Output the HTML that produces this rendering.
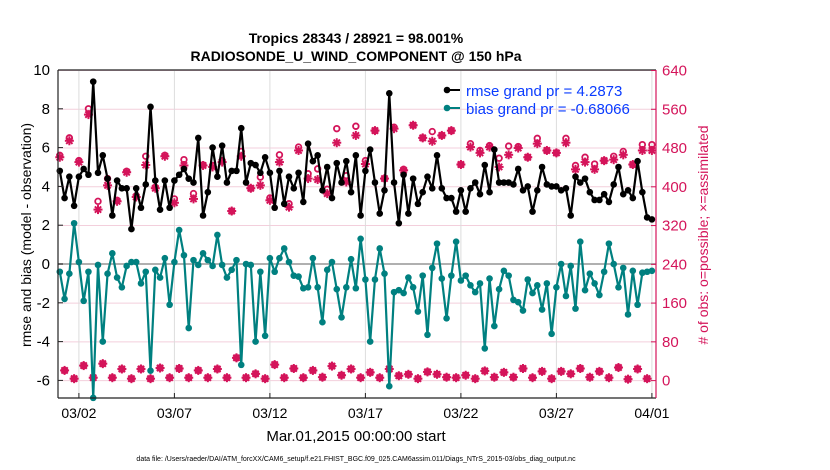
<!DOCTYPE html>
<html><head><meta charset="utf-8"><style>
html,body{margin:0;padding:0;background:#fff;}
svg{display:block;font-family:"Liberation Sans",sans-serif;}
</style></head><body>
<svg id="chart" width="830" height="470" viewBox="0 0 830 470" xmlns="http://www.w3.org/2000/svg">
<text x="356" y="43" text-anchor="middle" font-size="14" font-weight="bold">Tropics 28343 / 28921 = 98.001%</text>
<text x="356" y="61" text-anchor="middle" font-size="14" font-weight="bold">RADIOSONDE_U_WIND_COMPONENT @ 150 hPa</text>
<g id="grid"></g>
<g id="marks"></g>
<g id="axes"></g>
<text transform="translate(31,235) rotate(-90)" text-anchor="middle" font-size="14">rmse and bias (model - observation)</text>
<text transform="translate(708,235) rotate(-90)" text-anchor="middle" font-size="14" fill="#d4145a"># of obs: o=possible; ×=assimilated</text>
<text x="356" y="441" text-anchor="middle" font-size="15">Mar.01,2015 00:00:00 start</text>
<text x="356" y="461" text-anchor="middle" font-size="7">data file: /Users/raeder/DAI/ATM_forcXX/CAM6_setup/f.e21.FHIST_BGC.f09_025.CAM6assim.011/Diags_NTrS_2015-03/obs_diag_output.nc</text>
<g>
<line x1="447" y1="90" x2="460" y2="90" stroke="#000" stroke-width="2"/>
<circle cx="447" cy="90" r="3.3" fill="#000"/>
<text x="466" y="96" font-size="15" fill="#0a3cff">rmse grand pr = 4.2873</text>
<line x1="447" y1="108" x2="460" y2="108" stroke="#008080" stroke-width="2"/>
<circle cx="447" cy="108" r="3.3" fill="#008080"/>
<text x="466" y="114" font-size="15" fill="#0a3cff">bias grand pr = -0.68066</text>
</g>
</svg>
<script>
const rmse=[4.8,3.4,4.5,3.0,4.5,4.9,4.6,9.4,4.7,5.6,4.4,2.5,4.3,3.9,3.9,1.8,3.9,2.9,4.1,8.1,4.3,2.8,4.3,2.9,4.3,4.6,4.9,4.4,4.2,6.5,2.5,3.7,6.0,4.5,6.1,4.2,4.8,4.8,7.0,4.2,5.2,
5.1,4.7,5.5,4.7,2.9,4.8,3.1,4.5,3.9,4.7,3.2,6.2,5.3,5.6,3.8,5.0,3.4,5.2,4.2,5.3,3.7,5.6,2.5,4.8,5.9,4.2,2.6,3.8,8.8,4.2,2.1,4.6,2.6,4.4,3.1,3.7,4.5,3.9,5.6,3.9,3.4,
3.4,2.7,3.8,2.7,3.9,4.2,3.6,5.1,3.7,5.9,4.2,4.2,4.2,4.1,4.9,3.8,4.0,2.7,3.8,5.0,4.1,4.0,4.0,3.8,3.9,2.5,4.5,4.2,4.4,3.7,3.3,3.3,3.6,3.2,4.1,5.0,3.6,3.8,3.4,5.3,3.7,2.4,2.3];
const bias=[-0.4,-1.8,-0.5,2.1,0.1,-1.9,-0.4,-6.9,-0.05,-4.0,-0.5,0.55,-0.7,-1.2,-0.1,0.1,0.1,-1.0,-0.4,-5.5,-0.3,-0.7,0.3,-2.1,0.1,1.75,0.45,-3.3,0.2,-0.05,0.55,0.2,-0.1,1.5,-0.05,-0.7,-0.3,0.2,-5.2,0.0,-0.05,
-4.0,-0.4,-3.7,0.3,-0.4,0.3,0.8,0.1,-0.6,-0.65,-1.25,-1.2,0.3,-1.2,-3.0,-0.3,0.1,-1.3,-2.75,-1.2,0.25,-1.25,1.3,-0.8,-4.0,-0.8,0.8,-0.5,-6.3,-1.45,-1.35,-1.5,-0.7,-1.2,-2.45,-0.6,-3.65,-0.2,1.05,-0.75,-2.8,
-0.6,1.15,-0.85,-0.6,-1.1,-1.45,-1.0,-4.35,-0.75,-3.2,-1.3,-0.35,-0.6,-1.85,-1.97,-2.4,-0.8,-1.5,-1.1,-2.35,-1.0,-3.6,-1.2,0.0,-1.65,-0.1,-2.3,1.15,-1.35,-0.5,-1.0,-1.6,-0.4,1.05,0.0,-1.2,-0.2,-2.6,-0.35,-2.1,-0.45,-0.4,-0.35];
const possTop=[465,501,454,561,370,417,372,432,381,463,399,465,375,456,386,445,444,454,350,473,397,
420,377,466,365,482,427,437,395,520,423,525,454,516,417,523,436,527,501,514,506,
516,446,489,475,485,459,484,483,461,500,475,470,500,444,461,447,454,463,473,446,487,487];
const assimTop=[461,495,451,549,353,403,370,430,379,445,397,463,367,444,375,444,441,451,350,463,397,
403,372,451,358,475,417,415,386,491,410,506,447,516,417,520,434,527,501,494,506,
516,446,482,470,482,441,466,480,461,489,475,470,491,436,451,436,454,456,466,446,475,475];
const obsBottom=[21,4,31,6,35,6,24,4,24,4,26,6,25,6,21,6,24,6,47,6,
14,4,33,6,25,6,21,7,30,11,24,6,17,6,24,10,13,4,18,13,7,
6,11,4,20,7,17,7,25,6,19,4,19,14,25,7,19,6,27,3,24,4];
const dateTicks=["03/02","03/07","03/12","03/17","03/22","03/27","04/01"];
const dateTickDays=[1,6,11,16,21,26,31];
const leftTicks=[-6,-4,-2,0,2,4,6,8,10];
const rightTicks=[0,80,160,240,320,400,480,560,640];

const NS="http://www.w3.org/2000/svg";
const L=58,R=656,T=70,B=398;
const xDay=d=>59.8+d*19.1;
const xIdx=i=>xDay(i/4);
const yL=v=>264-v*19.4;
const yR=v=>380.6-v*0.4845;
const PINK="#d4145a";
function mk(tag,attrs,parent){const e=document.createElementNS(NS,tag);for(const k in attrs)e.setAttribute(k,attrs[k]);parent.appendChild(e);return e;}
const grid=document.getElementById('grid'),marks=document.getElementById('marks'),axes=document.getElementById('axes');

// possible/assimilated full arrays
const possible=[],assimilated=[];
let te=0,bo=0;
for(let i=0;i<125;i++){if(i%2===0){possible.push(possTop[te]);assimilated.push(assimTop[te]);te++;}else{possible.push(obsBottom[bo]);assimilated.push(obsBottom[bo]);bo++;}}

// grid
rightTicks.forEach(v=>{if(v===240)return;const g=mk('line',{x1:L,x2:R,y1:yR(v),y2:yR(v),stroke:'#f3cfdc','stroke-width':1},grid);

});
dateTickDays.forEach(d=>{const g=mk('line',{x1:xDay(d),x2:xDay(d),y1:T,y2:B,stroke:'#dcdcdc','stroke-width':1},grid);

});
const z=mk('line',{x1:L,x2:R,y1:yL(0),y2:yL(0),stroke:'#b0b0b0','stroke-width':2},grid);



// obs markers
function star(x,y,s,parent){const g=mk('g',{stroke:PINK,'stroke-width':2},parent);
mk('line',{x1:x-s,y1:y,x2:x+s,y2:y},g);mk('line',{x1:x,y1:y-s,x2:x,y2:y+s},g);
mk('line',{x1:x-s*0.7,y1:y-s*0.7,x2:x+s*0.7,y2:y+s*0.7},g);mk('line',{x1:x-s*0.7,y1:y+s*0.7,x2:x+s*0.7,y2:y-s*0.7},g);return g;}
possible.forEach((v,i)=>{const c=mk('circle',{cx:xIdx(i),cy:yR(v),r:2.8,fill:'none',stroke:PINK,'stroke-width':1.8},marks);

});
assimilated.forEach((v,i)=>{const g=star(xIdx(i),yR(v),4.5,marks);

});

// series
function series(vals,color,name){
const p=mk('polyline',{points:vals.map((v,i)=>xIdx(i)+','+yL(v)).join(' '),fill:'none',stroke:color,'stroke-width':2.2,'stroke-linejoin':'round'},marks);


vals.forEach((v,i)=>{const c=mk('circle',{cx:xIdx(i),cy:yL(v),r:3.3,fill:color},marks);

});}
series(bias,'#008080','bias');
series(rmse,'#000000','rmse');

// axes
const box=mk('path',{d:`M${L},${T}H${R}M${L},${B}H${R}M${L},${T}V${B}`,stroke:'#222','stroke-width':1.2,fill:'none'},axes);


const ra=mk('line',{x1:R,x2:R,y1:T,y2:B,stroke:PINK,'stroke-width':1.2},axes);


leftTicks.forEach(v=>{mk('line',{x1:L,x2:L+5,y1:yL(v),y2:yL(v),stroke:'#222'},axes);
const t=mk('text',{x:L-8,y:yL(v)+5,'text-anchor':'end','font-size':15},axes);t.textContent=v;

});
rightTicks.forEach(v=>{mk('line',{x1:R-5,x2:R,y1:yR(v),y2:yR(v),stroke:PINK},axes);
const t=mk('text',{x:R+6,y:yR(v)+5,'font-size':15,fill:PINK},axes);t.textContent=v;

});
dateTicks.forEach((s,k)=>{const x=xDay(dateTickDays[k]);mk('line',{x1:x,x2:x,y1:B,y2:B-5,stroke:'#222'},axes);
const t=mk('text',{x:x,y:418,'text-anchor':'middle','font-size':14},axes);t.textContent=s;

});
</script>
</body></html>
